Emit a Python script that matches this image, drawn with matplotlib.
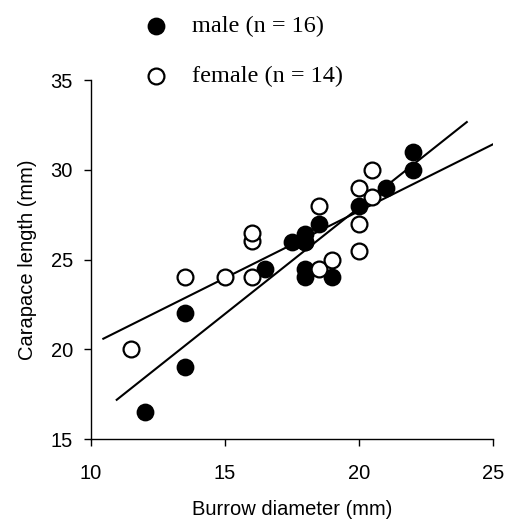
import matplotlib
matplotlib.use('Agg')

import matplotlib.pyplot as plt

#=====Data=====
male_x = [12, 13.5, 13.5, 16.5, 17.5, 18, 18, 18, 18, 18, 18.5, 19, 20, 21, 22, 22]
male_y = [16.5, 19.05, 22.05, 24.5, 26, 26.45, 26, 26, 24.5, 24.05, 27, 24.05, 28, 29, 31, 30]

female_x = [11.5, 13.5, 15, 16, 16, 16, 18.5, 18.5, 19, 20, 20, 20, 20.5, 20.5]
female_y = [20, 24.05, 24.05, 24.05, 26.05, 26.5, 28, 24.5, 25, 29, 27, 25.5, 30, 28.5]

# regression lines (end points)
male_fit_x = [10.96, 24.02]
male_fit_y = [17.2, 32.66]
female_fit_x = [10.46, 25.1]
female_fit_y = [20.6, 31.5]

x_ticks = [10, 15, 20, 25]
y_ticks = [15, 20, 25, 30, 35]
#==============

plt.rcParams['font.family'] = ['Liberation Sans', 'DejaVu Sans']

fig = plt.figure(figsize=(5.12, 5.23), dpi=100)
ax = fig.add_axes([0.1777, 0.16, 0.963 - 0.1777, 0.847 - 0.16])

ax.plot(male_fit_x, male_fit_y, color='black', lw=1.5, zorder=2)
ax.plot(female_fit_x, female_fit_y, color='black', lw=1.5, zorder=2)

m = ax.scatter(male_x, male_y, s=135, c='black', edgecolors='black',
               linewidths=1.2, zorder=3, label='male (n = 16)')
f = ax.scatter(female_x, female_y, s=130, c='white', edgecolors='black',
               linewidths=1.6, zorder=4, label='female (n = 14)')

ax.set_xlim(10, 25)
ax.set_ylim(15, 35)
ax.set_xticks(x_ticks)
ax.set_yticks(y_ticks)
ax.tick_params(direction='out', length=5, width=1, labelsize=14.5)
ax.tick_params(axis='x', pad=13)
ax.tick_params(axis='y', pad=8)

for side in ['top', 'right']:
    ax.spines[side].set_visible(False)
for side in ['left', 'bottom']:
    ax.spines[side].set_linewidth(1)

ax.set_xlabel('Burrow diameter (mm)', fontsize=14.5, labelpad=12)
ax.set_ylabel('Carapace length (mm)', fontsize=14.5, labelpad=10)

ax.legend(handles=[m, f], loc='upper left', bbox_to_anchor=(0.224, 1.004),
          bbox_transform=fig.transFigure, frameon=False,
          prop={'family': 'Liberation Serif', 'size': 17.5},
          handletextpad=0.48, labelspacing=1.15, borderpad=0.2,
          scatterpoints=1)

plt.savefig('out.png', dpi=100)
